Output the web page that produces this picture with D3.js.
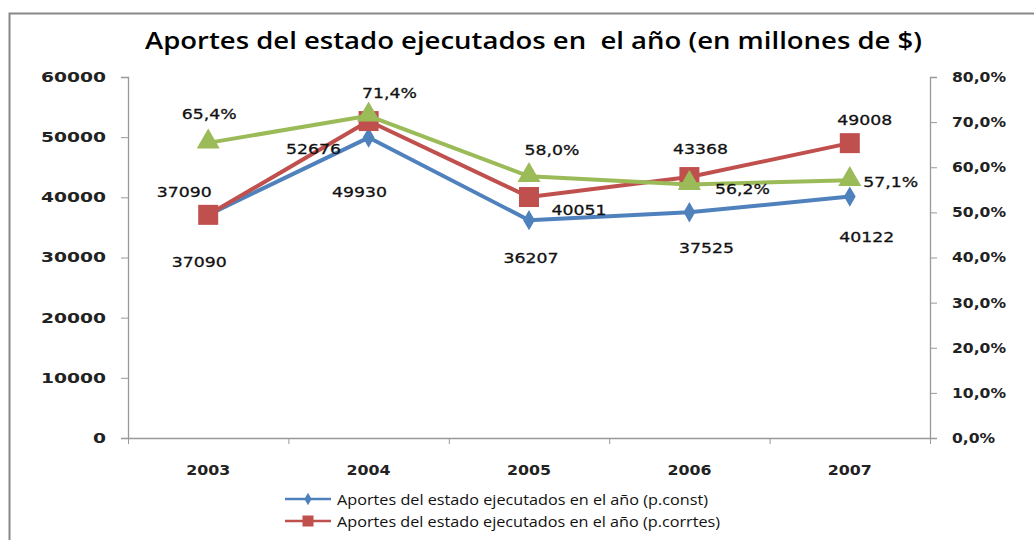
<!DOCTYPE html>
<html><head><meta charset="utf-8">
<script src="https://cdn.jsdelivr.net/npm/d3@7"></script>
<style>
html,body{margin:0;padding:0;background:#fff;}
svg{display:block;}
</style></head>
<body>
<svg id="c" width="1034" height="540"></svg>
<script>
const title = "Aportes del estado ejecutados en  el año (en millones de $)";
const years = ["2003","2004","2005","2006","2007"];
const constValues = [37090, 49930, 36207, 37525, 40122];
const corrValues = [37090, 52676, 40051, 43368, 49008];
const pctValues = [65.4, 71.4, 58.0, 56.2, 57.1];
const pctLabels = ["65,4%","71,4%","58,0%","56,2%","57,1%"];
const leftTicks = [0,10000,20000,30000,40000,50000,60000];
const rightTicks = [0,10,20,30,40,50,60,70,80];
const legendNames = ["Aportes del estado ejecutados en el año (p.const)","Aportes del estado ejecutados en el año (p.corrtes)"];

// label offsets from their point, centre of text (styling)
const constOff = [[-10,47],[-10,54],[1,37],[16,35],[16,40]];
const corrOff = [[-25,-23],[-56,27],[49,12],[10,-29],[14,-24]];
const pctOff = [[0,-29],[20,-23],[22,-27],[52,4],[40,1]];

const svg = d3.select("#c");
const blue="#4F81BD", red="#C0504D", green="#9BBB59";
const m = {l:128, r:930, t:77, b:438};

// horizontal stretch helper: scale each text so that the reference text reaches the target width
function stretch(sel, refWidth, targetWidth){
  const k = targetWidth / refWidth;
  sel.each(function(){
    const w = this.getComputedTextLength();
    d3.select(this).attr("textLength", w*k).attr("lengthAdjust","spacingAndGlyphs");
  });
}
function natural(sel, txt){
  let w = 0;
  sel.each(function(){ if (this.textContent===txt) w = this.getComputedTextLength(); });
  return w;
}

svg.append("rect").attr("x",9.5).attr("y",13.5).attr("width",1040).attr("height",540)
  .attr("fill","#fff").attr("stroke","#888").attr("stroke-width",2);

svg.append("text").attr("x",145).attr("y",49)
  .style("font-family","'Open Sans', sans-serif").style("font-weight",600).style("font-size","23.5px")
  .attr("textLength",777).attr("lengthAdjust","spacingAndGlyphs")
  .attr("fill","#000").attr("xml:space","preserve").text(title);

const x = d3.scaleBand().domain(years).range([m.l,m.r]);
const yL = d3.scaleLinear().domain([0,60000]).range([m.b,m.t]);
const yR = d3.scaleLinear().domain([0,80]).range([m.b,m.t]);

const axisColor="#999";
const lf = "'DejaVu Sans', sans-serif";

const gl = svg.append("g").attr("transform",`translate(${m.l},0)`)
  .call(d3.axisLeft(yL).tickValues(leftTicks).tickSize(7).tickPadding(15).tickFormat(d3.format("d")));
const gr = svg.append("g").attr("transform",`translate(${m.r},0)`)
  .call(d3.axisRight(yR).tickValues(rightTicks).tickSize(7).tickPadding(15).tickFormat(d=>d.toFixed(1).replace(".",",")+"%"));
const gb = svg.append("g").attr("transform",`translate(0,${m.b})`)
  .call(d3.axisBottom(x).tickSize(0).tickPadding(27));
const bounds = years.map(d=>x(d)).concat([m.r]);
svg.append("g").selectAll("line").data(bounds).join("line")
  .attr("x1",d=>d+0.5).attr("x2",d=>d+0.5).attr("y1",m.b).attr("y2",m.b+6)
  .attr("stroke",axisColor);

[gl,gr,gb].forEach(g=>{
  g.attr("font-family",null).attr("font-size",null);
  g.selectAll("path.domain").attr("stroke",axisColor).attr("stroke-width",1.3);
  g.selectAll(".tick line").attr("stroke",axisColor);
  g.selectAll("text").style("font-family",lf).style("font-weight","bold").style("font-size","14px")
    .attr("fill","#222");
});
gb.select("path.domain").attr("d",`M${m.l},0.5H${m.r}`);
{
  const t1 = gl.selectAll("text"); stretch(t1, natural(t1,"60000"), 65);
  const t2 = gr.selectAll("text"); stretch(t2, natural(t2,"80,0%"), 54);
  const t3 = gb.selectAll("text"); stretch(t3, natural(t3,"2003"), 44);
}

const cx = i=>x(years[i])+x.bandwidth()/2;
const lineL = d3.line().x((d,i)=>cx(i)).y(d=>yL(d));
const lineR = d3.line().x((d,i)=>cx(i)).y(d=>yR(d));

svg.append("path").datum(constValues).attr("d",lineL).attr("fill","none").attr("stroke",blue).attr("stroke-width",4).attr("stroke-linejoin","round");
svg.append("g").selectAll("path").data(constValues).join("path")
  .attr("d",d3.symbol(d3.symbolDiamond,120)).attr("transform",(d,i)=>`translate(${cx(i)},${yL(d)})`).attr("fill",blue);

svg.append("path").datum(corrValues).attr("d",lineL).attr("fill","none").attr("stroke",red).attr("stroke-width",4).attr("stroke-linejoin","round");
svg.append("g").selectAll("rect").data(corrValues).join("rect")
  .attr("x",(d,i)=>cx(i)-10).attr("y",d=>yL(d)-10).attr("width",20).attr("height",20).attr("fill",red);

svg.append("path").datum(pctValues).attr("d",lineR).attr("fill","none").attr("stroke",green).attr("stroke-width",4).attr("stroke-linejoin","round");
svg.append("g").selectAll("path").data(pctValues).join("path")
  .attr("d",d3.symbol(d3.symbolTriangle,230)).attr("transform",(d,i)=>`translate(${cx(i)},${yR(d)-1})`).attr("fill",green);

const labelGroup = svg.append("g");
function labels(vals, scale, off, fmt){
  labelGroup.append("g").selectAll("text").data(vals).join("text")
    .attr("x",(d,i)=>cx(i)+off[i][0]+1).attr("y",(d,i)=>scale(d)+off[i][1]+5.5)
    .attr("text-anchor","middle").style("font-family",lf).style("font-size","14.5px")
    .attr("fill","#111").attr("stroke","#111").attr("stroke-width",0.3)
    .text((d,i)=>fmt(d,i));
}
labels(constValues, yL, constOff, d=>String(d));
labels(corrValues, yL, corrOff, d=>String(d));
labels(pctValues, yR, pctOff, (d,i)=>pctLabels[i]);
{
  const tl = labelGroup.selectAll("text"); stretch(tl, natural(tl,"37090"), 55);
}

// legend
const lg = svg.append("g");
const legY = [499, 521];
const legW = [371, 383];
lg.append("line").attr("x1",285).attr("x2",331).attr("y1",legY[0]).attr("y2",legY[0]).attr("stroke",blue).attr("stroke-width",2.5);
lg.append("path").attr("d",d3.symbol(d3.symbolDiamond,45)).attr("transform",`translate(308,${legY[0]})`).attr("fill",blue);
lg.append("line").attr("x1",285).attr("x2",331).attr("y1",legY[1]).attr("y2",legY[1]).attr("stroke",red).attr("stroke-width",2.5);
lg.append("rect").attr("x",302.5).attr("y",legY[1]-5.5).attr("width",11).attr("height",11).attr("fill",red);
lg.selectAll("text").data(legendNames).join("text")
  .attr("x",337).attr("y",(d,i)=>legY[i]+5.5).style("font-family","'Open Sans', sans-serif").style("font-size","15px")
  .attr("textLength",(d,i)=>legW[i]).attr("lengthAdjust","spacingAndGlyphs")
  .attr("fill","#111").text(d=>d);
</script>
</body></html>
